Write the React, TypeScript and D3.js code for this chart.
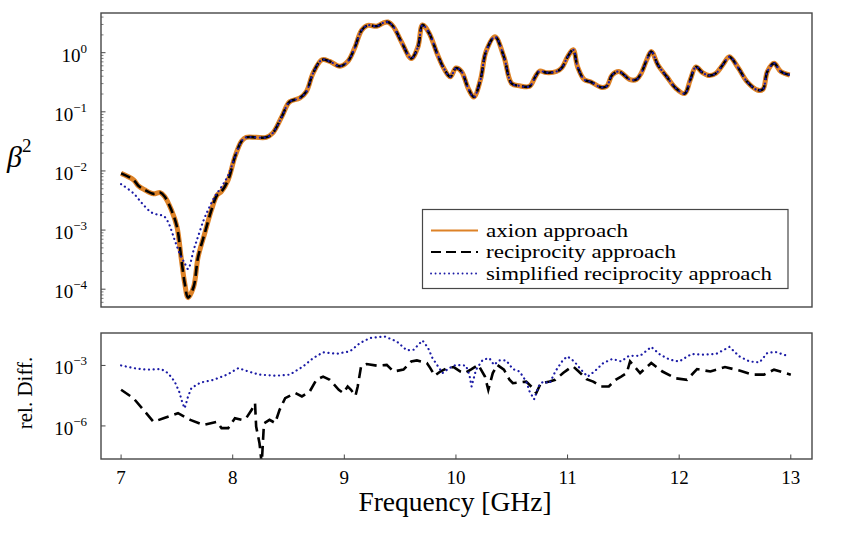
import React from "react";
import * as d3 from "d3";

// beta^2 of the three approaches, [frequency GHz, value]
const axion: [number, number][] = [
  [7.0, 9.1e-3], [7.11, 7.1e-3], [7.155, 5.6e-3], [7.21, 4.8e-3], [7.29, 4.1e-3],
  [7.35, 4.3e-3], [7.39, 3.7e-3], [7.45, 2.2e-3], [7.5, 1.15e-3], [7.54, 3.2e-4],
  [7.57, 1.26e-4], [7.6, 7.2e-5], [7.65, 1.1e-4], [7.69, 3.5e-4], [7.75, 8.9e-4],
  [7.81, 2.2e-3], [7.86, 3.9e-3], [7.9, 4.5e-3], [7.96, 7.1e-3], [8.02, 1.74e-2],
  [8.08, 3.2e-2], [8.12, 3.7e-2], [8.21, 3.7e-2], [8.3, 3.7e-2], [8.36, 4.4e-2],
  [8.44, 8.3e-2], [8.51, 0.148], [8.6, 0.17], [8.66, 0.22], [8.72, 0.45],
  [8.8, 0.76], [8.87, 0.71], [8.96, 0.59], [9.03, 0.71], [9.09, 1.17],
  [9.155, 2.4], [9.21, 2.9], [9.29, 2.8], [9.35, 3.2], [9.39, 3.3],
  [9.44, 2.75], [9.51, 1.55], [9.6, 0.8], [9.66, 1.26], [9.7, 2.95],
  [9.76, 2.14], [9.83, 0.98], [9.89, 0.55], [9.95, 0.39], [10.0, 0.55],
  [10.05, 0.48], [10.11, 0.25], [10.16, 0.178], [10.22, 0.35], [10.27, 1.05],
  [10.35, 1.86], [10.43, 0.85], [10.5, 0.3], [10.57, 0.275], [10.66, 0.27],
  [10.71, 0.39], [10.75, 0.49], [10.81, 0.46], [10.9, 0.48], [10.95, 0.56],
  [11.0, 0.85], [11.05, 1.12], [11.09, 0.575], [11.15, 0.35], [11.21, 0.32],
  [11.3, 0.26], [11.35, 0.27], [11.4, 0.42], [11.46, 0.48], [11.56, 0.35],
  [11.62, 0.355], [11.66, 0.45], [11.71, 0.76], [11.75, 1.05], [11.81, 0.62],
  [11.89, 0.39], [11.97, 0.25], [12.05, 0.204], [12.1, 0.35], [12.15, 0.575],
  [12.21, 0.46], [12.27, 0.41], [12.33, 0.45], [12.39, 0.62], [12.45, 0.85],
  [12.53, 0.55], [12.61, 0.32], [12.7, 0.234], [12.75, 0.24], [12.79, 0.48],
  [12.85, 0.66], [12.91, 0.48], [12.99, 0.42],
];

// reciprocity approach lies on top of the axion curve at this scale
const reciprocity: [number, number][] = axion.map((d) => [d[0], d[1]]);

// simplified approach: separate below 8 GHz, on the axion curve above
const simplifiedLow: [number, number][] = [
  [7.0, 6.0e-3], [7.11, 4.2e-3], [7.19, 2.8e-3], [7.27, 2.0e-3], [7.33, 1.82e-3],
  [7.38, 1.74e-3], [7.42, 1.38e-3], [7.48, 6.8e-4], [7.53, 3.8e-4], [7.57, 2.75e-4],
  [7.6, 2.2e-4], [7.65, 4.6e-4], [7.69, 7.8e-4], [7.74, 1.48e-3], [7.78, 2.2e-3],
  [7.84, 3.7e-3], [7.9, 5.4e-3], [7.96, 8.5e-3],
];
const simplified: [number, number][] = simplifiedLow.concat(axion.filter((d) => d[0] > 8));

// relative difference to the axion approach
const diffReciprocity: [number, number][] = [
  [7.0, 6.2e-5], [7.11, 2.4e-5], [7.2, 6.3e-6], [7.29, 1.6e-6], [7.38, 2.4e-6],
  [7.51, 4.3e-6], [7.62, 2.0e-6], [7.74, 1.12e-6], [7.86, 1.6e-6], [7.9, 7.8e-7],
  [7.96, 7.8e-7], [8.02, 2.4e-6], [8.08, 2.0e-6], [8.12, 2.4e-6], [8.17, 6.3e-6],
  [8.2, 1.35e-5], [8.21, 9.3e-7], [8.24, 1.38e-7], [8.26, 1.3e-8], [8.28, 1.35e-6],
  [8.33, 2.0e-6], [8.38, 1.4e-6], [8.42, 6.3e-6], [8.47, 2.4e-5], [8.56, 4.3e-5],
  [8.62, 2.9e-5], [8.69, 5.1e-5], [8.75, 1.95e-4], [8.81, 2.8e-4], [8.87, 1.95e-4],
  [8.95, 6.2e-5], [8.99, 4.3e-5], [9.03, 9.1e-5], [9.06, 6.2e-5], [9.1, 3.1e-5],
  [9.12, 9.1e-5], [9.15, 8.9e-4], [9.2, 1.17e-3], [9.29, 9.8e-4], [9.38, 1.07e-3],
  [9.44, 5.0e-4], [9.53, 6.2e-4], [9.6, 1.58e-3], [9.65, 1.78e-3], [9.74, 1.32e-3],
  [9.77, 7.4e-4], [9.81, 3.1e-4], [9.86, 5.0e-4], [9.92, 7.4e-4], [9.98, 8.3e-4],
  [10.04, 5.0e-4], [10.08, 4.2e-4], [10.14, 6.6e-4], [10.2, 1.07e-3], [10.26, 2.8e-4],
  [10.29, 6.2e-5], [10.33, 4.2e-4], [10.37, 1.07e-3], [10.43, 6.2e-4], [10.48, 1.95e-4],
  [10.51, 1.32e-4], [10.63, 1.58e-4], [10.69, 7.4e-5], [10.72, 4.3e-5], [10.76, 1.32e-4],
  [10.84, 1.58e-4], [10.89, 1.95e-4], [10.96, 4.2e-4], [11.02, 7.4e-4], [11.05, 8.9e-4],
  [11.1, 5.0e-4], [11.17, 2.1e-4], [11.23, 1.58e-4], [11.3, 9.1e-5], [11.37, 9.1e-5],
  [11.43, 1.95e-4], [11.48, 2.8e-4], [11.53, 4.2e-4], [11.56, 1.58e-3], [11.65, 4.2e-4],
  [11.75, 1.32e-3], [11.85, 5.0e-4], [11.97, 2.3e-4], [12.07, 1.95e-4], [12.16, 6.6e-4],
  [12.28, 5.0e-4], [12.41, 8.3e-4], [12.54, 5.6e-4], [12.66, 3.5e-4], [12.76, 3.5e-4],
  [12.85, 6.2e-4], [13.0, 3.5e-4],
];

const diffSimplified: [number, number][] = [
  [7.0, 1.0e-3], [7.11, 7.4e-4], [7.23, 6.2e-4], [7.36, 6.6e-4], [7.42, 4.2e-4],
  [7.48, 1.58e-4], [7.52, 5.1e-5], [7.55, 1.35e-5], [7.57, 7.6e-6], [7.6, 2.9e-5],
  [7.63, 7.6e-5], [7.71, 1.41e-4], [7.83, 1.95e-4], [7.95, 3.5e-4], [8.05, 7.4e-4],
  [8.14, 5.0e-4], [8.24, 3.5e-4], [8.39, 3.1e-4], [8.51, 3.5e-4], [8.63, 8.9e-4],
  [8.72, 2.3e-3], [8.81, 4.5e-3], [8.93, 3.8e-3], [9.05, 5.0e-3], [9.14, 1.29e-2],
  [9.23, 2.3e-2], [9.36, 2.75e-2], [9.47, 1.55e-2], [9.56, 5.6e-3], [9.62, 6.0e-3],
  [9.7, 1.74e-2], [9.75, 7.4e-3], [9.79, 2.3e-3], [9.84, 8.9e-4], [9.88, 4.2e-4],
  [9.94, 7.4e-4], [10.0, 1.07e-3], [10.09, 9.8e-4], [10.12, 3.5e-4], [10.14, 9.1e-5],
  [10.18, 6.2e-4], [10.24, 1.9e-3], [10.3, 2.3e-3], [10.34, 1.07e-3], [10.39, 1.78e-3],
  [10.45, 1.78e-3], [10.51, 6.6e-4], [10.57, 5.0e-4], [10.63, 1.58e-4], [10.66, 5.1e-5],
  [10.7, 2.1e-5], [10.74, 9.1e-5], [10.78, 1.58e-4], [10.84, 1.32e-4], [10.89, 5.0e-4],
  [10.96, 1.9e-3], [11.0, 2.8e-3], [11.06, 1.58e-3], [11.12, 6.2e-4], [11.18, 2.8e-4],
  [11.24, 5.0e-4], [11.32, 1.32e-3], [11.4, 2.1e-3], [11.48, 1.58e-3], [11.55, 3.0e-3],
  [11.65, 3.0e-3], [11.75, 8.3e-3], [11.83, 3.4e-3], [11.92, 1.9e-3], [12.0, 1.58e-3],
  [12.11, 3.7e-3], [12.21, 3.4e-3], [12.33, 3.7e-3], [12.45, 8.3e-3], [12.54, 2.8e-3],
  [12.63, 1.58e-3], [12.72, 1.41e-3], [12.79, 4.2e-3], [12.86, 4.7e-3], [12.97, 3.0e-3],
];

const xTicks = [7, 8, 9, 10, 11, 12, 13];
const topTicks = [1e0, 1e-1, 1e-2, 1e-3, 1e-4];
const topTickExp = ["0", "−1", "−2", "−3", "−4"];
const bottomTicks = [1e-3, 1e-6];
const bottomTickExp = ["−3", "−6"];
const legendLabels = ["axion approach", "reciprocity approach", "simplified reciprocity approach"];

const ORANGE = "#dd8227";
const BLUE = "#1b1ba6";
const FRAME = "#474747";
const FONT = "'Liberation Serif', 'DejaVu Serif', serif";

const W = 843;
const H = 534;
const left = 101;
const right = 812;
const top1 = 13;
const bot1 = 307;
const top2 = 333;
const bot2 = 459;

// legend text widths, stretched a little to look like the wider TeX font
const legendWidths = [142, 190, 286];

const App: React.FC = () => {
  const x = d3.scaleLinear().domain([6.82, 13.19]).range([left, right]);
  const yTop = d3.scaleLog().domain([5.0e-5, 4.69]).range([bot1, top1]);
  const yBot = d3.scaleLog().domain([2.29e-8, 0.0407]).range([bot2, top2]);

  const lineTop = d3
    .line<[number, number]>()
    .x((d) => x(d[0]))
    .y((d) => yTop(d[1]))
    .curve(d3.curveCatmullRom.alpha(0.5));
  const lineBot = d3
    .line<[number, number]>()
    .x((d) => x(d[0]))
    .y((d) => yBot(d[1]));

  // minor ticks 2..9 per decade
  const minorTop: number[] = [];
  for (let e = -5; e <= 0; e++) {
    for (let m = 2; m <= 9; m++) {
      const v = m * Math.pow(10, e);
      if (v > 5.0e-5 && v < 4.69) minorTop.push(v);
    }
  }

  const dash = "10,5";
  const dots = "0.1,4.6";

  return (
    <svg
      width={W}
      height={H}
      style={{ position: "absolute", left: 0, top: 0, background: "#fff" }}
      fontFamily={FONT}
    >
      <defs>
        <clipPath id="clipTop">
          <rect x={left} y={top1} width={right - left} height={bot1 - top1} />
        </clipPath>
        <clipPath id="clipBot">
          <rect x={left} y={top2} width={right - left} height={bot2 - top2} />
        </clipPath>
      </defs>

      {/* top panel */}
      <g clipPath="url(#clipTop)">
        <path d={lineTop(axion) || ""} fill="none" stroke={ORANGE} strokeWidth={5} strokeLinejoin="round" />
        <path d={lineTop(reciprocity) || ""} fill="none" stroke="#000" strokeWidth={2.6} strokeDasharray={dash} />
        <path
          d={lineTop(simplified) || ""}
          fill="none"
          stroke={BLUE}
          strokeWidth={2.2}
          strokeDasharray={dots}
          strokeLinecap="round"
        />
      </g>
      <rect x={left} y={top1} width={right - left} height={bot1 - top1} fill="none" stroke={FRAME} strokeWidth={1.4} />
      {topTicks.map((t, i) => (
        <g key={"tt" + i}>
          <line x1={left} x2={left + 4.5} y1={yTop(t)} y2={yTop(t)} stroke={FRAME} strokeWidth={1} />
          <text x={87} y={yTop(t) + 9} textAnchor="end" fontSize={19}>
            10
            <tspan dy={-9} fontSize={13}>
              {topTickExp[i]}
            </tspan>
          </text>
        </g>
      ))}
      {minorTop.map((t, i) => (
        <line key={"mt" + i} x1={left} x2={left + 2.5} y1={yTop(t)} y2={yTop(t)} stroke={FRAME} strokeWidth={0.7} />
      ))}
      <text x={7} y={167} fontSize={30} fontStyle="italic">
        β
        <tspan dy={-15} fontSize={19} fontStyle="normal">
          2
        </tspan>
      </text>

      {/* legend */}
      <g>
        <rect x={422.5} y={209.5} width={365.5} height={79} fill="#fff" stroke={FRAME} strokeWidth={1.2} />
        {legendLabels.map((lab, i) => {
          const ly = 230.5 + i * 21.5;
          return (
            <g key={"lg" + i}>
              <line
                x1={431}
                x2={478}
                y1={ly}
                y2={ly}
                stroke={i === 0 ? ORANGE : i === 1 ? "#000" : BLUE}
                strokeWidth={i === 0 ? 1.8 : i === 1 ? 2 : 1.8}
                strokeDasharray={i === 0 ? undefined : i === 1 ? dash : "0.1,4.4"}
                strokeLinecap={i === 2 ? "round" : "butt"}
              />
              <text
                x={486}
                y={ly + 6}
                fontSize={18.5}
                textLength={legendWidths[i]}
                lengthAdjust="spacingAndGlyphs"
              >
                {lab}
              </text>
            </g>
          );
        })}
      </g>

      {/* bottom panel */}
      <g clipPath="url(#clipBot)">
        <path d={lineBot(diffReciprocity) || ""} fill="none" stroke="#000" strokeWidth={2.6} strokeDasharray="11,6" />
        <path
          d={lineBot(diffSimplified) || ""}
          fill="none"
          stroke={BLUE}
          strokeWidth={2.2}
          strokeDasharray={dots}
          strokeLinecap="round"
        />
      </g>
      <rect x={left} y={top2} width={right - left} height={bot2 - top2} fill="none" stroke={FRAME} strokeWidth={1.4} />
      {bottomTicks.map((t, i) => (
        <g key={"bt" + i}>
          <line x1={left} x2={left + 4.5} y1={yBot(t)} y2={yBot(t)} stroke={FRAME} strokeWidth={1} />
          <text x={87} y={yBot(t) + 9} textAnchor="end" fontSize={19}>
            10
            <tspan dy={-9} fontSize={13}>
              {bottomTickExp[i]}
            </tspan>
          </text>
        </g>
      ))}
      {xTicks.map((t) => (
        <g key={"xt" + t}>
          <line x1={x(t)} x2={x(t)} y1={bot2} y2={bot2 - 4.5} stroke={FRAME} strokeWidth={1} />
          <text x={x(t)} y={484} textAnchor="middle" fontSize={19}>
            {t}
          </text>
        </g>
      ))}
      <text transform="translate(32,393) rotate(-90)" textAnchor="middle" fontSize={21}>
        rel. Diff.
      </text>
      <text x={455} y={511} textAnchor="middle" fontSize={27.5}>
        Frequency [GHz]
      </text>
    </svg>
  );
};

export default App;
